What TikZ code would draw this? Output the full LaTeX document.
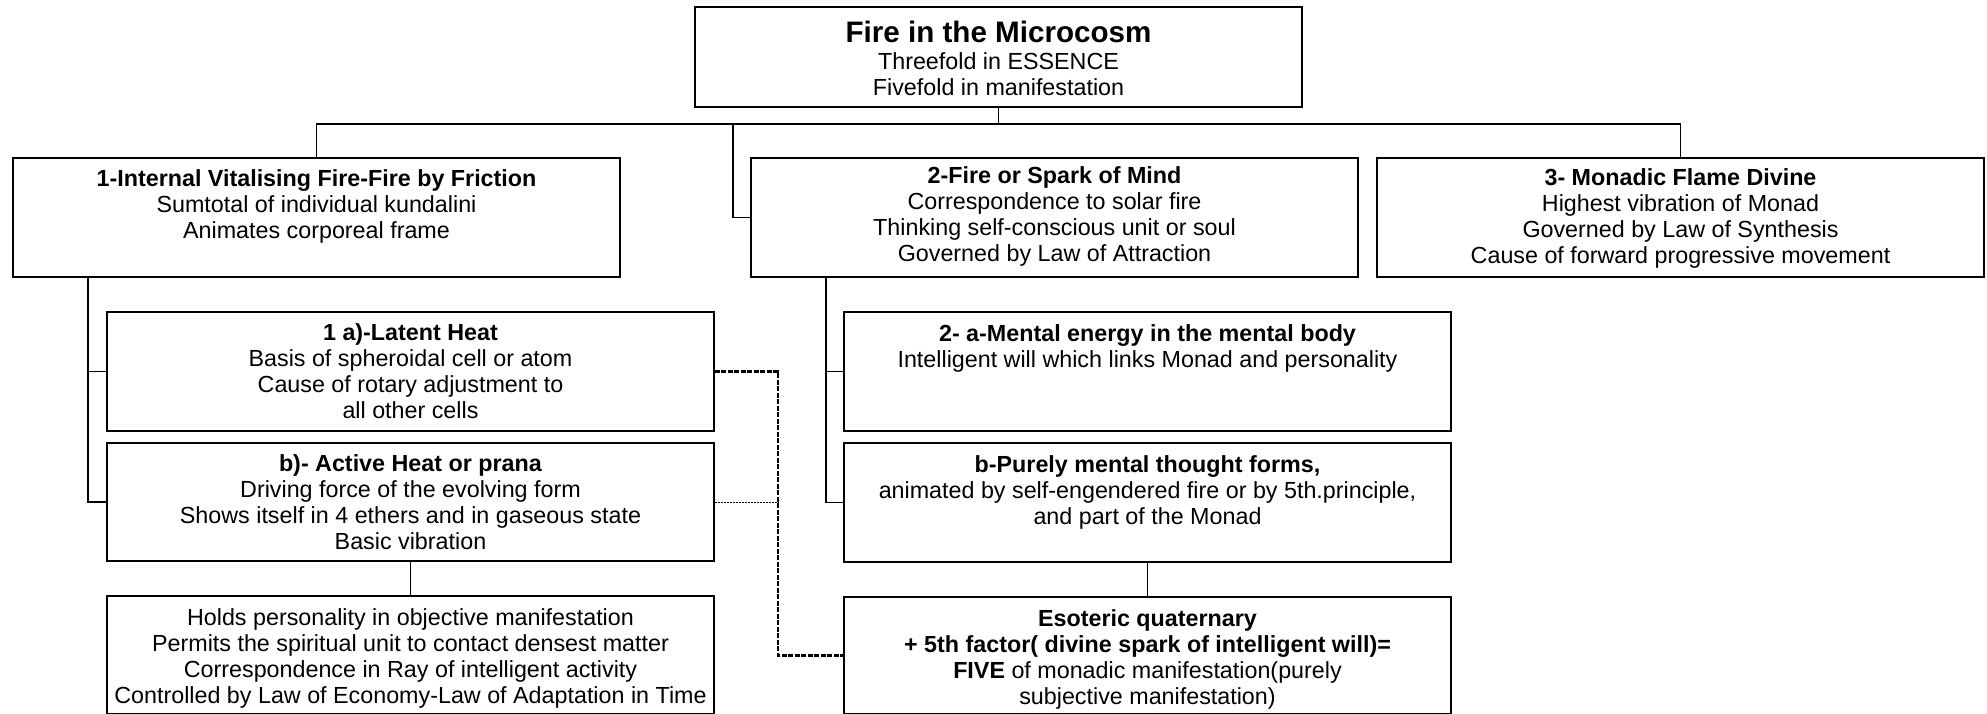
\documentclass[tikz,border=0pt]{standalone}
\usepackage{fontspec}
\setmainfont{Liberation Sans}
\newcommand\bodyfnt{\fontsize{23.3}{26}\selectfont}
\newcommand\titlefnt{\fontsize{29.6}{34}\selectfont\bfseries}
\begin{document}
\begin{tikzpicture}[x=1pt,y=-1pt,
  box/.style={draw, line width=1.3pt, minimum width=607pt, inner sep=0pt},
  txt/.style={anchor=north, inner sep=0pt, align=center, font=\bodyfnt},
  conn/.style={line width=1.3pt},
  thickdash/.style={line width=2.2pt, dash pattern=on 5pt off 1.5pt},
  thindot/.style={line width=1pt, dash pattern=on 2pt off 1pt}]
\fill[white] (0,0) rectangle (1987,713);
\useasboundingbox (0,0) rectangle (1987,713);

% boxes
\node[box, minimum height=100pt] (top) at (998.5,57) {};
\node[box, minimum height=119pt] (b1) at (316.5,217.5) {};
\node[box, minimum height=119pt] (b2) at (1054.5,217.5) {};
\node[box, minimum height=119pt] (b3) at (1680.5,217.5) {};
\node[box, minimum height=119pt] (b1a) at (410.5,371.5) {};
\node[box, minimum height=118pt] (b1b) at (410.5,502) {};
\node[box, minimum height=118pt] (b1c) at (410.5,655) {};
\node[box, minimum height=119pt] (b2a) at (1147.5,371.5) {};
\node[box, minimum height=119pt] (b2b) at (1147.5,502.5) {};
\node[box, minimum height=117pt] (b2c) at (1147.5,655.5) {};

% texts
\node[anchor=base, inner sep=0pt, font=\titlefnt] (ttop) at (998.5,42.6) {Fire in the Microcosm};
\node[txt] (ttop2) at (998.5,51) {\strut Threefold in ESSENCE\\\strut Fivefold in manifestation};
\node[txt] (t1) at (316.5,168) {\strut\textbf{1-Internal Vitalising Fire-Fire by Friction}\\\strut Sumtotal of individual kundalini\\\strut Animates corporeal frame};
\node[txt] (t2) at (1054.5,165) {\strut\textbf{2-Fire or Spark of Mind}\\\strut Correspondence to solar fire\\\strut Thinking self-conscious unit or soul\\\strut Governed by Law of Attraction};
\node[txt] (t3) at (1680.5,167) {\strut\textbf{3- Monadic Flame Divine}\\\strut Highest vibration of Monad\\\strut Governed by Law of Synthesis\\\strut Cause of forward progressive movement};
\node[txt] (t1a) at (410.5,322) {\strut\textbf{1 a)-Latent Heat}\\\strut Basis of spheroidal cell or atom\\\strut Cause of rotary adjustment to\\\strut all other cells};
\node[txt] (t1b) at (410.5,453) {\strut\textbf{b)- Active Heat or prana}\\\strut Driving force of the evolving form\\\strut Shows itself in 4 ethers and in gaseous state\\\strut Basic vibration};
\node[txt] (t1c) at (410.5,607) {\strut Holds personality in objective manifestation\\\strut Permits the spiritual unit to contact densest matter\\\strut Correspondence in Ray of intelligent activity\\\strut Controlled by Law of Economy-Law of Adaptation in Time};
\node[txt] (t2a) at (1147.5,323) {\strut\textbf{2- a-Mental energy in the mental body}\\\strut Intelligent will which links Monad and personality};
\node[txt] (t2b) at (1147.5,454) {\strut\textbf{b-Purely mental thought forms,}\\\strut animated by self-engendered fire or by 5th.principle,\\\strut and part of the Monad};
\node[txt] (t2c) at (1147.5,608) {\strut\textbf{Esoteric quaternary}\\\strut\textbf{+ 5th factor( divine spark of intelligent will)=}\\\strut\textbf{FIVE} of monadic manifestation(purely\\\strut subjective manifestation)};

% connector helpers
\coordinate (bus) at (0,124);
\coordinate (j2) at (733,124);
\coordinate (s1) at (88,0);
\coordinate (s2) at (826,0);
\coordinate (dx) at (778,0);

% tree connectors
\draw[conn] (top.south) -- (top.south |- bus);
\draw[conn] (b1.north) -- (b1.north |- bus) -- (b3.north |- bus) -- (b3.north);
\draw[conn] (j2) |- (b2.west);
\draw[conn] (s1 |- b1.south) |- (b1b.west);
\draw[conn] (s1 |- b1a.west) -- (b1a.west);
\draw[conn] (s2 |- b2.south) |- (b2b.west);
\draw[conn] (s2 |- b2a.west) -- (b2a.west);
\draw[conn] (b1b.south) -- (b1c.north);
\draw[conn] (b2b.south) -- (b2c.north);

% dashed links
\draw[thickdash] (b1a.east) -- (b1a.east -| dx) |- (b2c.west);
\draw[thindot] (b1b.east) -- (b1b.east -| dx);
\end{tikzpicture}
\end{document}
